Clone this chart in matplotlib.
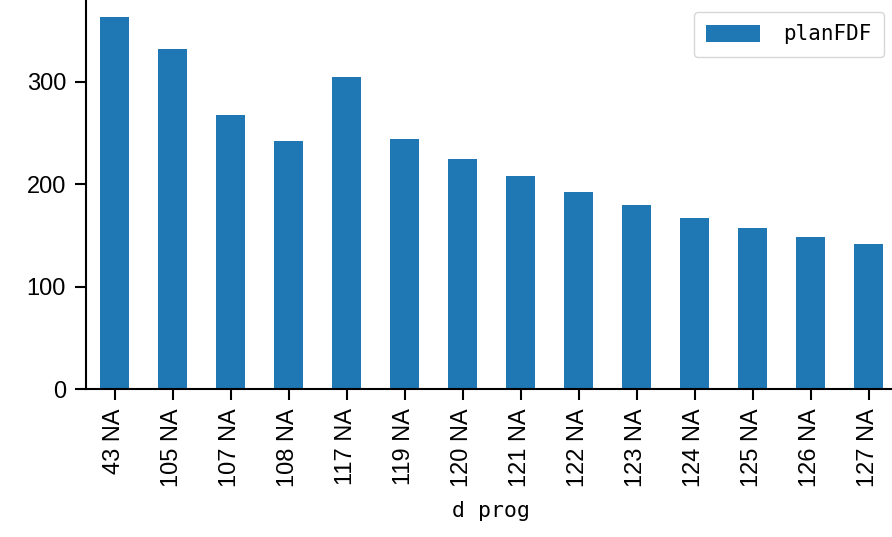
import numpy as np
import matplotlib
matplotlib.use("Agg")
import matplotlib.pyplot as plt

# data
categories = ["43 NA", "105 NA", "107 NA", "108 NA", "117 NA", "119 NA", "120 NA",
              "121 NA", "122 NA", "123 NA", "124 NA", "125 NA", "126 NA", "127 NA"]
planFDF = [363.5, 332, 268, 242.5, 305, 244, 225, 208, 192.5, 180, 167, 157.5, 148.5, 142]

plt.rcParams['font.family'] = ['Liberation Sans', 'DejaVu Sans']

fig = plt.figure(figsize=(8.92, 5.37), dpi=100)
ax = fig.add_axes([85.5 / 892, 148 / 537, 812 / 892, 389 / 537])

x = np.arange(len(categories))
ax.bar(x, planFDF, width=0.5, color='#1f77b4', label='planFDF')
ax.set_xlim(-0.5, len(categories) - 0.5)
ax.set_ylim(0, 380)
ax.set_yticks([0, 100, 200, 300])
ax.set_xticks(x)
ax.set_xticklabels(categories, rotation=90)
ax.tick_params(labelsize=17, length=8, width=1.5, pad=6)

for s in ['top', 'right']:
    ax.spines[s].set_visible(False)
for s in ['left', 'bottom']:
    ax.spines[s].set_linewidth(1.5)

ax.set_xlabel('d prog', family='DejaVu Sans Mono', fontsize=15.5, labelpad=10)

leg = ax.legend(loc='upper right', bbox_to_anchor=(884 / 892, 1 - 12 / 537),
                bbox_transform=fig.transFigure, borderaxespad=0,
                prop={'family': 'DejaVu Sans Mono', 'size': 15},
                handlelength=2.6, handleheight=0.9, handletextpad=1.1,
                borderpad=0.6, fancybox=True)

fig.savefig('out.png', dpi=100)
